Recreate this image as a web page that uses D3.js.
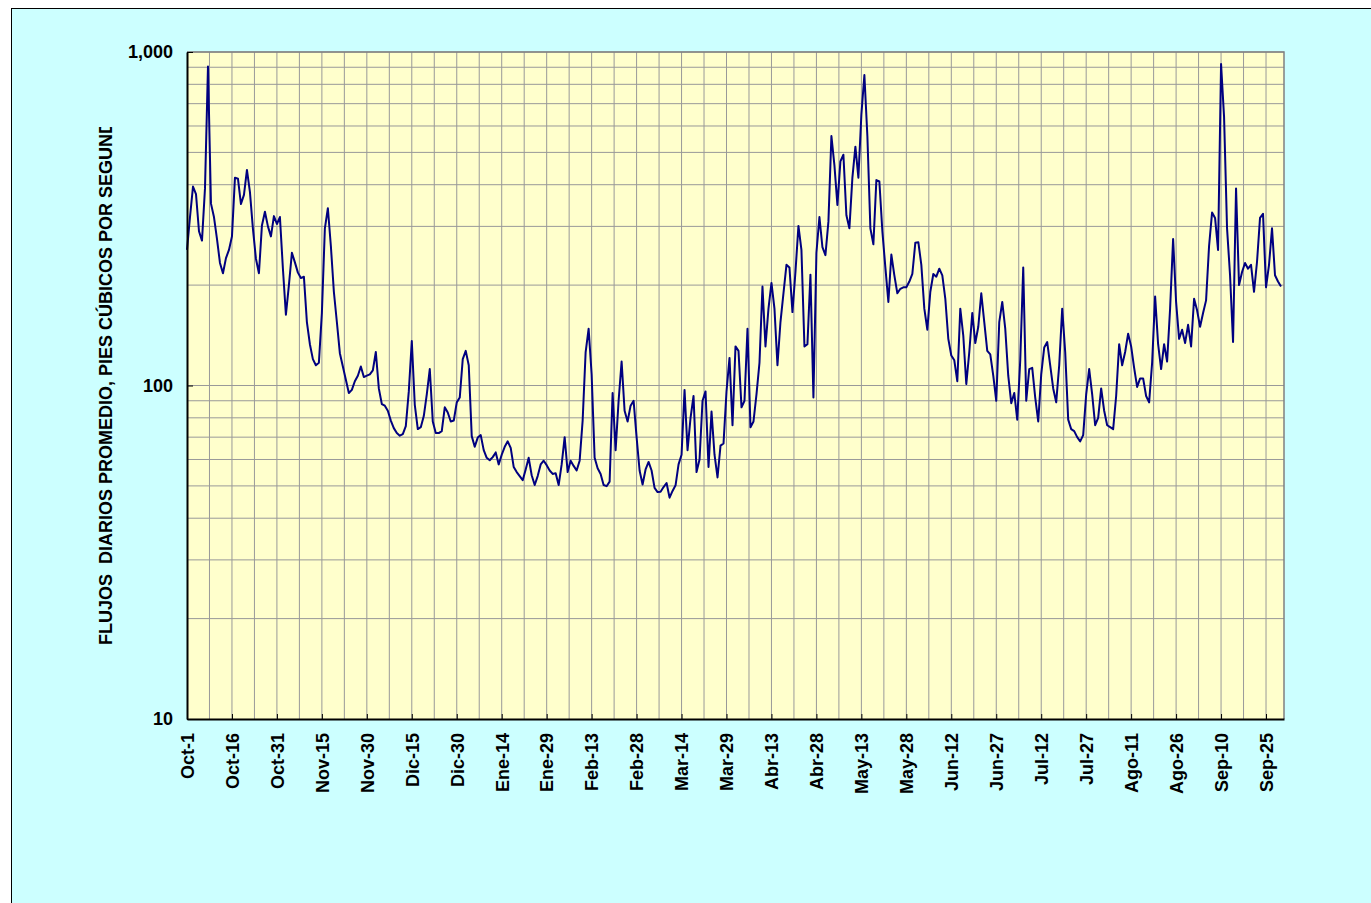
<!DOCTYPE html>
<html>
<head>
<meta charset="utf-8">
<script src="https://cdn.jsdelivr.net/npm/d3@7"></script>
<style>
  body { margin: 0; background: #fff; }
  svg { display: block; }
  text { font-family: "Liberation Sans", Arial, sans-serif; font-weight: bold; fill: #000; }
</style>
</head>
<body>
<div id="chart"></div>
<script>
// daily mean flows, one array per month (Oct..Sep, leap year)
var oct = [255, 320, 395, 375, 290, 272, 390, 904, 351, 320, 275, 233, 217, 241, 255, 280,
           420, 417, 350, 373, 443, 380, 295, 240, 217, 302, 332, 300, 280, 322, 305];
var nov = [320, 224, 163, 200, 250, 234, 218, 210, 212, 155, 133, 120, 115, 117, 165,
           296, 340, 262, 191, 155, 125, 114, 104, 95, 97, 103, 107, 114, 106, 107];
var dic = [108, 111, 126, 98, 88, 87, 84, 78.5, 74.5, 72, 70.7, 71.5, 75.5, 96, 136, 87.5,
           74, 75, 81, 94, 112, 78, 72, 72, 73, 86, 83, 78, 78.5, 89, 92];
var ene = [120, 127, 115, 70.5, 65.5, 69.8, 71, 64, 60.7, 59.7, 61, 63, 58, 62, 65.5, 68,
           65, 57, 55, 53.5, 52, 56, 60.7, 53.8, 50.3, 53.5, 58, 59.5, 57.7, 55.6, 54.3];
var feb = [54.6, 50.3, 58, 70, 55, 59.5, 57.4, 55.6, 59.5, 78.5, 126, 148, 108, 60.7, 56.5,
           54.3, 50.3, 49.9, 51.5, 95, 64, 90, 118, 84, 78, 87, 90, 70, 55.6];
var mar = [50.5, 56, 59, 55.6, 49.3, 47.9, 48, 49.6, 51, 46.1, 48.3, 50.2, 58, 62, 97, 64,
           80, 93, 55, 60, 90, 96, 57, 83.5, 62, 53, 66, 67, 96, 121, 76];
var abr = [131, 127, 86, 90, 148, 75, 78, 94, 117, 198, 131, 170, 203, 170, 115, 155,
           189, 230, 226, 166, 219, 301, 255, 131, 133, 215, 92, 250, 320, 260];
var may = [246, 310, 560, 458, 348, 470, 492, 324, 296, 420, 520, 420, 650, 853, 560, 296,
           265, 413, 409, 290, 226, 178, 247, 214, 189, 195, 197, 197, 205, 216, 268];
var jun = [269, 230, 170, 147, 191, 216, 212, 224, 214, 182, 138, 123, 119, 103, 170,
           141, 101, 126, 165, 134, 150, 189, 155, 127, 124, 107, 90, 155, 178, 148];
var jul = [107, 88.5, 95, 79, 119, 226, 90, 112, 113, 92, 78, 108, 130, 135, 115, 98,
           89, 115, 170, 126, 79, 74, 73, 70, 68, 71, 94, 112, 94, 76, 80];
var ago = [98, 84, 76, 75, 74, 93, 133, 115, 126, 143, 131, 113, 99, 105, 105, 93,
           89, 117, 185, 133, 112, 133, 118, 170, 275, 178, 138, 147, 134, 152, 131];
var sep = [182, 168, 150, 165, 180, 262, 330, 318, 255, 920, 640, 296, 214, 135, 390,
           200, 219, 233, 224, 230, 191, 235, 318, 327, 197, 230, 296, 214, 205, 198];

var flows = [].concat(oct, nov, dic, ene, feb, mar, abr, may, jun, jul, ago, sep);

var tickLabels = ['Oct-1', 'Oct-16', 'Oct-31', 'Nov-15', 'Nov-30', 'Dic-15', 'Dic-30',
                  'Ene-14', 'Ene-29', 'Feb-13', 'Feb-28', 'Mar-14', 'Mar-29', 'Abr-13',
                  'Abr-28', 'May-13', 'May-28', 'Jun-12', 'Jun-27', 'Jul-12', 'Jul-27',
                  'Ago-11', 'Ago-26', 'Sep-10', 'Sep-25'];
var yTicks = [10, 100, 1000];
var yTitle = 'FLUJOS  DIARIOS PROMEDIO, PIES CÚBICOS POR SEGUNDO';

var width = 1371, height = 903;
var plot = {left: 187, top: 52, right: 1284, bottom: 719};

var svg = d3.select('#chart').append('svg')
      .attr('width', width)
      .attr('height', height);

// chart area
svg.append('rect')
  .attr('x', 11.5).attr('y', 8.5)
  .attr('width', width).attr('height', height)
  .attr('fill', '#CCFFFF')
  .attr('stroke', '#000')
  .attr('stroke-width', 1);

var xScale = d3.scaleLinear()
      .domain([0, flows.length])
      .range([plot.left, plot.right]);

var yScale = d3.scaleLog()
      .domain([10, 1000])
      .range([plot.bottom, plot.top]);

// plot area
svg.append('rect')
  .attr('x', plot.left).attr('y', plot.top)
  .attr('width', plot.right - plot.left)
  .attr('height', plot.bottom - plot.top)
  .attr('fill', '#FFFFCC');

var tickIdx = tickLabels.map(function(d, i) { return i * 15; });

// gridlines
var grid = svg.append('g').attr('class', 'grid');
var vLines = d3.range(7.5, flows.length, 7.5);
grid.selectAll('.vline')
  .data(vLines)
  .enter().append('line')
  .attr('class', 'vline')
  .attr('x1', function(d) { return xScale(d); })
  .attr('x2', function(d) { return xScale(d); })
  .attr('y1', plot.top).attr('y2', plot.bottom)
  .attr('stroke', '#999').attr('stroke-width', 1);

grid.selectAll('.hline')
  .data(yScale.ticks().filter(function(d) { return d > 10; }))
  .enter().append('line')
  .attr('class', 'hline')
  .attr('x1', plot.left).attr('x2', plot.right)
  .attr('y1', function(d) { return yScale(d); })
  .attr('y2', function(d) { return yScale(d); })
  .attr('stroke', '#999').attr('stroke-width', 1);

// frame top/right
svg.append('path')
  .attr('d', 'M' + plot.left + ',' + plot.top + 'H' + plot.right + 'V' + plot.bottom)
  .attr('fill', 'none')
  .attr('stroke', '#808080')
  .attr('stroke-width', 1.5);

// flow line
var line = d3.line()
      .x(function(d, i) { return xScale(i); })
      .y(function(d) { return yScale(d); });

svg.append('path')
  .datum(flows)
  .attr('d', line)
  .attr('fill', 'none')
  .attr('stroke', '#000080')
  .attr('stroke-width', 2)
  .attr('stroke-linejoin', 'round');

// x axis
var xAxis = svg.append('g')
      .attr('transform', 'translate(0,' + plot.bottom + ')')
      .call(d3.axisBottom(xScale)
            .tickValues(tickIdx)
            .tickSize(-5)
            .tickSizeOuter(0)
            .tickFormat(function(d, i) { return tickLabels[i]; }));
xAxis.select('.domain').attr('stroke', '#000').attr('stroke-width', 2);
xAxis.selectAll('.tick line').attr('stroke', '#000');
xAxis.selectAll('.tick text')
  .attr('font-size', 18)
  .attr('text-anchor', 'end')
  .attr('y', 0)
  .attr('dy', '0.35em')
  .attr('transform', 'translate(0,14) rotate(-90)');

// y axis
var yAxis = svg.append('g')
      .attr('transform', 'translate(' + plot.left + ',0)')
      .call(d3.axisLeft(yScale)
            .tickValues(yTicks)
            .tickSize(-6)
            .tickSizeOuter(0)
            .tickPadding(14)
            .tickFormat(d3.format(',')));
yAxis.select('.domain').attr('stroke', '#000').attr('stroke-width', 2);
yAxis.selectAll('.tick line').attr('stroke', '#000');
yAxis.selectAll('.tick text').attr('font-size', 18);

// y title, cut off at the top like the original
svg.append('clipPath').attr('id', 'titleClip')
  .append('rect')
  .attr('x', 0).attr('y', 127)
  .attr('width', 180).attr('height', 700);

svg.append('g')
  .attr('clip-path', 'url(#titleClip)')
  .append('text')
  .attr('transform', 'translate(106,645) rotate(-90)')
  .attr('dy', '0.35em')
  .attr('font-size', 18)
  .style('white-space', 'pre')
  .text(yTitle);
</script>
</body>
</html>
